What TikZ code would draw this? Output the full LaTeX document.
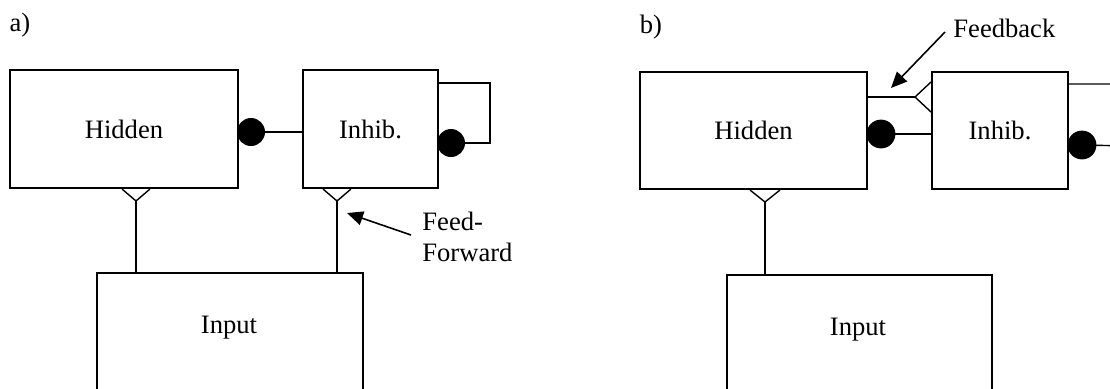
\documentclass[tikz,border=0pt]{standalone}
\usepackage{fontspec}
\setmainfont{Liberation Serif}
\usetikzlibrary{arrows.meta,calc}
\begin{document}
\begin{tikzpicture}[x=0.5pt,y=-0.5pt,
  box/.style={draw, line width=1pt, rectangle, anchor=north west, inner sep=0pt, font=\fontsize{13.3}{15}\selectfont},
  lbl/.style={font=\fontsize{13.3}{15.5}\selectfont, inner sep=0pt},
  conn/.style={line width=0.7pt},
  pointer/.style={line width=0.8pt, -{Triangle[length=8pt,width=7pt]}},
]
\useasboundingbox (0,0) rectangle (1110,388);
\clip (0,0) rectangle (1110,388);

% ---------- panel a ----------
\node[lbl] (labA) at (20,25) {a)};
\node[box, minimum width=114pt, minimum height=59pt] (hidA) at (9,69) {Hidden};
\node[box, minimum width=67.5pt, minimum height=59pt] (inhA) at (302,69) {Inhib.};
\node[box, minimum width=133pt, minimum height=64pt] (inA) at (96,272) {};
\node[lbl] (inAt) at (229,328) {Input};

% excitatory V from input to hidden
\coordinate (vA1) at (136,201);
\draw[conn] (122,0 |- hidA.south) -- (vA1) -- (150,0 |- hidA.south);
\draw[conn] (vA1) -- (vA1 |- inA.north);
% excitatory V from input to inhib
\coordinate (vA2) at (337,201);
\draw[conn] (323,0 |- inhA.south) -- (vA2) -- (351,0 |- inhA.south);
\draw[conn] (vA2) -- (vA2 |- inA.north);
% inhibitory dot inhib -> hidden
\coordinate (dA1) at (251,132);
\draw[conn] (dA1) -- (dA1 -| inhA.west);
\fill (dA1) circle[radius=7pt];
% self loop
\coordinate (dA2) at (451,143);
\draw[conn] (inhA.east |- 0,83) -- (490,83) -- (490,143) -- (dA2);
\fill (dA2) circle[radius=7pt];
% feed-forward label
\node[lbl, anchor=west, align=left] (ffA) at (422,237) {Feed-\\Forward};
\coordinate (ffT) at ($(ffA.west)+(-11,-2)$);
\coordinate (ffH) at (347,213);
\draw[pointer] (ffT) -- (ffH);

% ---------- panel b ----------
\node[lbl] (labB) at (651,27) {b)};
\node[lbl, anchor=west] (fbB) at (953,28) {Feedback};
\node[box, minimum width=113.5pt, minimum height=58.5pt] (hidB) at (639,71) {Hidden};
\node[box, minimum width=68pt, minimum height=58.5pt] (inhB) at (931,71) {Inhib.};
\node[box, minimum width=132.5pt, minimum height=66pt] (inB) at (726,274) {};
\node[lbl] (inBt) at (858,330) {Input};

% excitatory V from input to hidden
\coordinate (vB1) at (765,202);
\draw[conn] (750,0 |- hidB.south) -- (vB1) -- (780,0 |- hidB.south);
\draw[conn] (vB1) -- (vB1 |- inB.north);
% feedback excitatory V hidden -> inhib
\coordinate (vB2) at (915,97);
\draw[conn] (hidB.east |- vB2) -- (vB2);
\draw[conn] (inhB.west |- 0,82) -- (vB2) -- (inhB.west |- 0,112);
% inhibitory dot inhib -> hidden
\coordinate (dB1) at (881,134);
\draw[conn] (dB1) -- (dB1 -| inhB.west);
\fill (dB1) circle[radius=7.2pt];
% self loop (runs off the right edge)
\coordinate (dB2) at (1082,145);
\draw[conn] (inhB.east |- 0,84) -- (1130,84) -- (1130,146) -- (dB2);
\fill (dB2) circle[radius=7.2pt];
% feedback pointer
\coordinate (fbT) at ($(fbB.west)+(-8,4)$);
\coordinate (fbH) at (891,88);
\draw[pointer] (fbT) -- (fbH);
\end{tikzpicture}
\end{document}
